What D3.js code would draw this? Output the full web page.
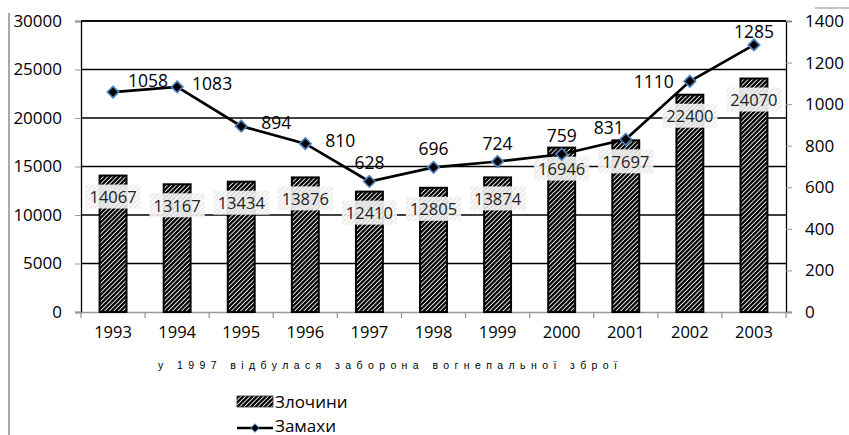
<!DOCTYPE html>
<html><head><meta charset="utf-8">
<script src="https://cdn.jsdelivr.net/npm/d3@7"></script>
<style>body{margin:0;background:#fff}svg{display:block}</style>
</head><body>
<svg id="c" width="849" height="435"></svg>
<script>
const years = ["1993","1994","1995","1996","1997","1998","1999","2000","2001","2002","2003"];
const crimes = [14067,13167,13434,13876,12410,12805,13874,16946,17697,22400,24070];
const attempts = [1058,1083,894,810,628,696,724,759,831,1110,1285];
const leftTicks = [0,5000,10000,15000,20000,25000,30000];
const rightTicks = [0,200,400,600,800,1000,1200,1400];
const seriesNames = ["Злочини","Замахи"];
const note = "у 1997 відбулася заборона вогнепальної зброї";
// label placement keywords for the line series
const lineLabelPlace = ["aboveRight","right","right","right","above","above","above","above","aboveLeft","left","above"];

const svg = d3.select("#c");
const F = "'Open Sans', sans-serif";
const L = 81, R = 786, T = 21, B = 312;

const defs = svg.append("defs");
const pat = defs.append("pattern").attr("id","hatch").attr("patternUnits","userSpaceOnUse")
  .attr("width",3.2).attr("height",3.2).attr("patternTransform","rotate(45)");
pat.append("rect").attr("width",3.2).attr("height",3.2).attr("fill","#fff");
pat.append("rect").attr("width",2.3).attr("height",3.2).attr("fill","#000");
const pat2 = defs.append("pattern").attr("id","lhatch").attr("patternUnits","userSpaceOnUse")
  .attr("width",3.5).attr("height",3.5).attr("patternTransform","rotate(45)");
pat2.append("rect").attr("width",3.5).attr("height",3.5).attr("fill","#fafafa");
pat2.append("rect").attr("width",1.2).attr("height",3.5).attr("fill","#e4e4e4");

// chart border fragments
svg.append("line").attr("x1",9).attr("x2",9).attr("y1",13).attr("y2",435).attr("stroke","#8c8c8c").attr("stroke-width",1.5);
svg.append("line").attr("x1",815).attr("x2",849).attr("y1",8).attr("y2",8).attr("stroke","#8c8c8c").attr("stroke-width",1.2);

const x = d3.scaleBand().domain(years).range([L,R]).padding(0);
const yL = d3.scaleLinear().domain([0,30000]).range([B,T]);
const yR = d3.scaleLinear().domain([0,1400]).range([B,T]);

// gridlines
svg.append("g").selectAll("line").data(leftTicks.filter(d=>d>0)).join("line")
  .attr("x1",L).attr("x2",R).attr("y1",d=>yL(d)).attr("y2",d=>yL(d))
  .attr("stroke","#000").attr("stroke-width",1.3);

// left axis
const gl = svg.append("g").attr("transform",`translate(${L},0)`)
  .call(d3.axisLeft(yL).tickValues(leftTicks).tickSize(6).tickPadding(13).tickFormat(d3.format("d")));
gl.select(".domain").attr("stroke","#000").attr("stroke-width",1.3);
gl.selectAll(".tick line").attr("stroke","#999");
gl.selectAll("text").attr("font-family",F).attr("font-size",17).attr("fill","#000");

// right axis
const gr = svg.append("g").attr("transform",`translate(${R},0)`)
  .call(d3.axisRight(yR).tickValues(rightTicks).tickSize(6).tickPadding(13).tickFormat(d3.format("d")));
gr.select(".domain").attr("stroke","#000").attr("stroke-width",1.3);
gr.selectAll(".tick line").attr("stroke","#999");
gr.selectAll("text").attr("font-family",F).attr("font-size",17).attr("fill","#000");

// x axis
const gx = svg.append("g").attr("transform",`translate(0,${B})`)
  .call(d3.axisBottom(x).tickSize(0).tickPadding(14));
gx.select(".domain").attr("stroke","#999").attr("stroke-width",1.3);
gx.selectAll("text").attr("font-family",F).attr("font-size",16.5).attr("fill","#000");
svg.append("g").selectAll("line").data(years.concat(["end"])).join("line")
  .attr("x1",(d,i)=>L+i*x.bandwidth()).attr("x2",(d,i)=>L+i*x.bandwidth())
  .attr("y1",B).attr("y2",B+6).attr("stroke","#999").attr("stroke-width",1.3);

// top plot border
svg.append("line").attr("x1",L).attr("x2",R).attr("y1",T).attr("y2",T).attr("stroke","#000").attr("stroke-width",1.3);

// bars
const bw = x.bandwidth()*0.42;
svg.append("g").selectAll("rect").data(crimes).join("rect")
  .attr("x",(d,i)=>x(years[i])+x.bandwidth()/2-bw/2).attr("width",bw)
  .attr("y",d=>yL(d)).attr("height",d=>B-yL(d))
  .attr("fill","url(#hatch)").attr("stroke","#000").attr("stroke-width",2);

// bar labels
const bl = svg.append("g");
crimes.forEach((d,i)=>{
  const cx = x(years[i])+x.bandwidth()/2, cy = yL(d)+21;
  const t = bl.append("text").attr("x",cx).attr("y",cy).attr("text-anchor","middle")
    .attr("dominant-baseline","central").attr("font-family",F).attr("font-size",16.5).attr("fill","#222").text(d);
  const bb = t.node().getBBox();
  bl.insert("rect","text").attr("x",bb.x-4).attr("y",cy-12).attr("width",bb.width+8).attr("height",24)
    .attr("fill","url(#lhatch)").attr("opacity",0.92);
});

// line
const px = (d,i)=>x(years[i])+x.bandwidth()/2;
svg.append("path").datum(attempts)
  .attr("d",d3.line().x(px).y(d=>yR(d)))
  .attr("fill","none").attr("stroke","#000").attr("stroke-width",2.7);
const diamond = d3.symbol().type(d3.symbolDiamond2).size(85);
svg.append("g").selectAll("path").data(attempts).join("path")
  .attr("transform",(d,i)=>`translate(${px(d,i)},${yR(d)})`).attr("d",diamond)
  .attr("fill","#000").attr("stroke","#4f81bd").attr("stroke-width",1.6);

const off = {aboveRight:[35,-12],right:[35,-4],above:[0,-19],aboveLeft:[-17,-12],left:[-36,0]};
svg.append("g").selectAll("text").data(attempts).join("text")
  .attr("x",(d,i)=>px(d,i)+off[lineLabelPlace[i]][0])
  .attr("y",(d,i)=>yR(d)+off[lineLabelPlace[i]][1]+(i===10?5:0))
  .attr("text-anchor","middle").attr("dominant-baseline","central")
  .attr("font-family",F).attr("font-size",17.5).attr("fill","#000").text(d=>d);

// note
svg.append("text").attr("x",158).attr("y",369).attr("textLength",459).attr("lengthAdjust","spacing")
  .attr("font-family","'Liberation Sans', Arial, sans-serif").attr("font-size",10.5).attr("fill","#000").text(note);

// legend
const lg = svg.append("g");
lg.append("rect").attr("x",237).attr("y",396).attr("width",36).attr("height",11)
  .attr("fill","url(#hatch)").attr("stroke","#333").attr("stroke-width",0.8);
lg.append("text").attr("x",275).attr("y",401).attr("dominant-baseline","central")
  .attr("font-family",F).attr("font-size",17).attr("fill","#000").text(seriesNames[0]);
lg.append("line").attr("x1",237).attr("x2",273).attr("y1",428).attr("y2",428).attr("stroke","#000").attr("stroke-width",2.5);
lg.append("path").attr("transform","translate(255,428)").attr("d",d3.symbol().type(d3.symbolDiamond2).size(45))
  .attr("fill","#000").attr("stroke","#4f81bd").attr("stroke-width",1);
lg.append("text").attr("x",275).attr("y",425).attr("dominant-baseline","central")
  .attr("font-family",F).attr("font-size",17).attr("fill","#000").text(seriesNames[1]);
</script>
</body></html>
